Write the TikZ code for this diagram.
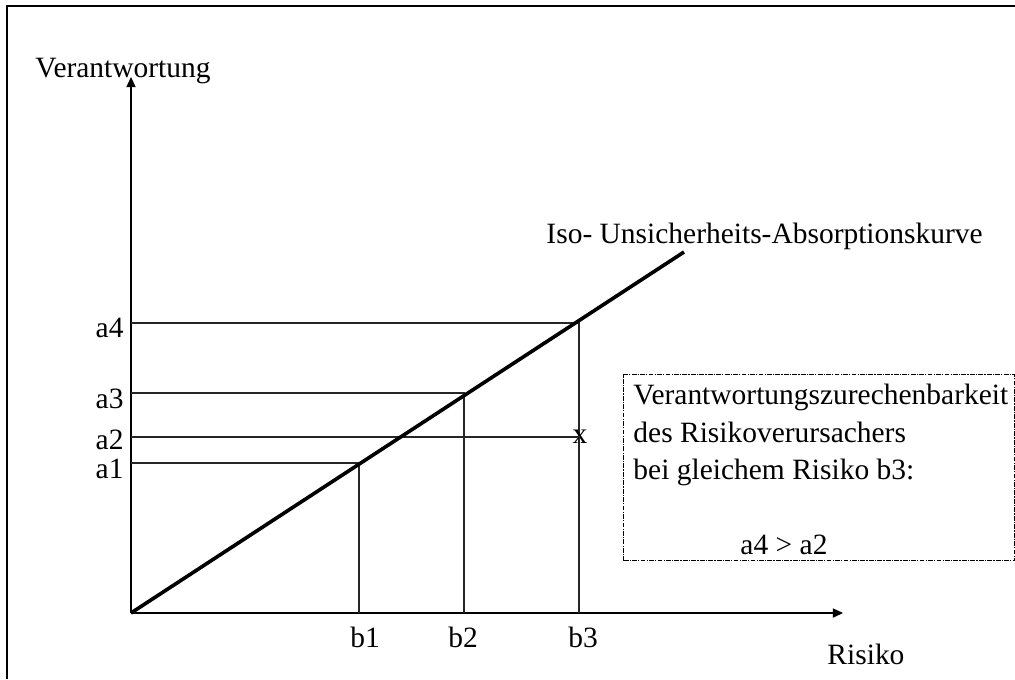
\documentclass[tikz,border=0pt]{standalone}
\usepackage{fontspec}
\setmainfont{Liberation Serif}
\usetikzlibrary{positioning,arrows.meta,calc}

\begin{document}
\begin{tikzpicture}[
  x=0.414pt, y=-0.414pt,
  font=\fontsize{12.2}{15.5}\selectfont,
  rahmen/.style={draw=black, line width=0.6pt},
  achse/.style={-{Triangle[length=4.2pt,width=3.8pt]}, line width=0.5pt},
  hilfs/.style={line width=0.45pt, draw=black!85},
  kurve/.style={line width=1.5pt},
  wert/.style={inner sep=0pt, anchor=base east},
  bwert/.style={inner sep=0pt, anchor=base},
  titel/.style={inner sep=0pt, anchor=base west},
  hinweis/.style={draw, line width=0.6pt, dash pattern=on 2pt off 0.5pt on 0.5pt off 0.5pt,
                  anchor=north west, minimum width=161.9pt, minimum height=77pt, inner sep=0pt},
]
\useasboundingbox (0,0) rectangle (1015,679);

% ---- Rahmen ----
\draw[rahmen] (7,679) |- (1015,6);

% ---- Punkte ----
\coordinate (O)     at (131,613);
\coordinate (ytip)  at (131,77);
\coordinate (xtip)  at (843,613);
\coordinate (kende) at (684,252);
\coordinate (ya1) at (131,463);
\coordinate (ya2) at (131,437);
\coordinate (ya3) at (131,393);
\coordinate (ya4) at (131,323);
\coordinate (xb1) at (359,613);
\coordinate (xb2) at (464,613);
\coordinate (xb3) at (579,613);

% ---- Achsen ----
\draw[achse] (O) -- (ytip);
\draw[achse] (O) -- (xtip);
\node[titel] (yl) at (35,77)  {Verantwortung};
\node[titel] (xl) at (827,664) {Risiko};

% ---- Hilfslinien ----
\draw[hilfs] (ya1) -| (xb1);
\draw[hilfs] (ya3) -| (xb2);
\draw[hilfs] (ya4) -| (xb3);
\node[inner sep=0pt] (kreuz) at (580,437) {x};
\draw[hilfs] (ya2) -- (ya2 -| kreuz.center);

% ---- Werte ----
\node[wert] (la4) at (124,337) {a4};
\node[wert] (la3) at (124,408) {a3};
\node[wert] (la2) at (124,449) {a2};
\node[wert] (la1) at (124,478) {a1};
\node[bwert] (lb1) at (365,647) {b1};
\node[bwert] (lb2) at (463,647) {b2};
\node[bwert] (lb3) at (583,647) {b3};

% ---- Kurve ----
\draw[kurve] (O) -- (kende);
\node[titel] (kl) at (546,243) {Iso- Unsicherheits-Absorptionskurve};

% ---- Hinweis ----
\node[hinweis] (box) at (623,374) {};
\node[inner sep=0pt, anchor=north west, align=left] (boxtext) at (633,384)
  {Verantwortungszurechenbarkeit\\des Risikoverursachers\\bei gleichem Risiko b3:\\[15.5pt]\hspace*{44.3pt}a4 > a2};

\end{tikzpicture}
\end{document}
